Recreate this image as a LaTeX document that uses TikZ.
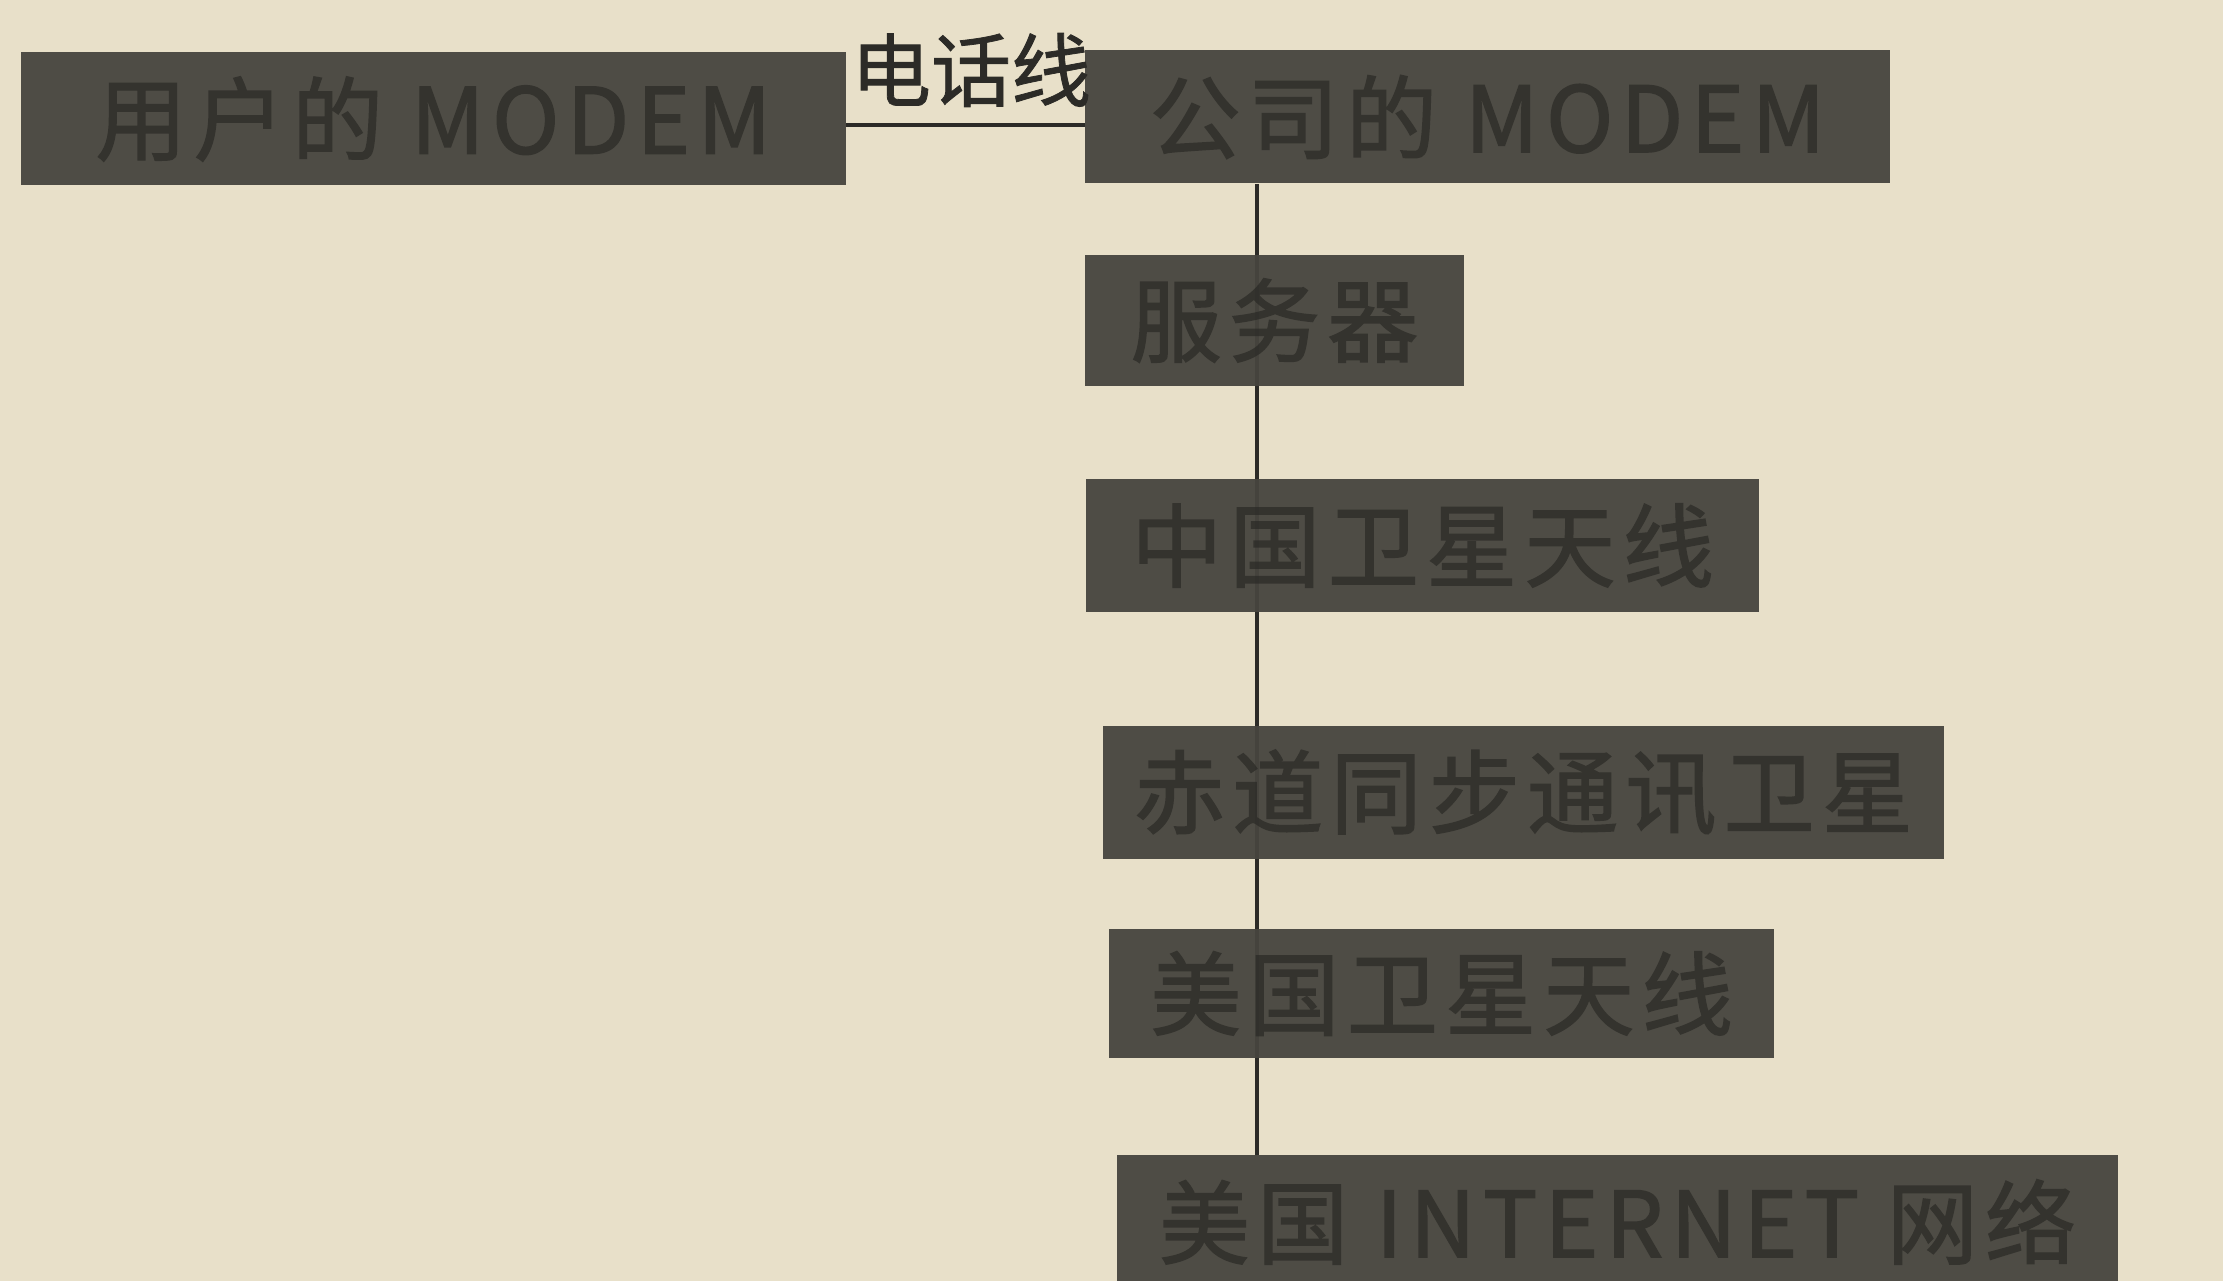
\documentclass[tikz,border=0pt]{standalone}
\usepackage{fontspec}
\newfontfamily\hei[LetterSpace=8,FakeBold=1.6]{Noto Sans CJK SC}
\newfontfamily\heilabel[FakeBold=1.0]{Noto Sans CJK SC}
\pgfdeclarelayer{background}
\pgfsetlayers{background,main}
\definecolor{paper}{RGB}{232,224,201}
\definecolor{boxfill}{RGB}{78,76,69}
\definecolor{boxtext}{RGB}{52,51,46}
\definecolor{ink}{RGB}{44,43,39}
\begin{document}
\begin{tikzpicture}[x=1pt,y=-1pt,
  blk/.style={fill=boxfill,draw=none,inner sep=0pt,minimum height=133pt,
    text=boxtext,font=\hei\fontsize{91}{96}\selectfont},
  wire/.style={draw=ink,line width=4.5pt},
  lbl/.style={text=ink,inner sep=0pt,font=\heilabel\fontsize{80}{86}\selectfont}]
\useasboundingbox (0,0) rectangle (2223,1281);
\node[blk,minimum width=825pt] (b1) at (433.5,119) {用户的 MODEM};
\node[blk,minimum width=805pt] (b2) at (1487.5,117) {公司的 MODEM};
\node[blk,minimum width=379pt,minimum height=131pt] (b3) at (1274.5,320.5) {服务器};
\node[blk,minimum width=673pt] (b4) at (1422.5,545.5) {中国卫星天线};
\node[blk,minimum width=841pt] (b5) at (1523.5,792.5) {赤道同步通讯卫星};
\node[blk,minimum width=665pt,minimum height=129pt] (b6) at (1441.5,993.5) {美国卫星天线};
\node[blk,minimum width=1001pt,minimum height=134pt] (b7) at (1617.5,1222) {美国 INTERNET 网络};
\node[lbl] (tel) at (971,70) {电话线};
\coordinate (vtop) at (1257,184);
\coordinate (vbot) at (1257,1155);
\draw[wire] ([yshift=-6pt]b1.east) -- ([yshift=-8pt]b2.west);
\begin{pgfonlayer}{background}
\fill[paper] (0,0) rectangle (2223,1281);
\draw[wire] (vtop) -- (vbot);
\end{pgfonlayer}
\draw[wire,draw opacity=0.25] (b3.north -| vtop) -- (b3.south -| vtop);
\draw[wire,draw opacity=0.25] (b4.north -| vtop) -- (b4.south -| vtop);
\draw[wire,draw opacity=0.25] (b5.north -| vtop) -- (b5.south -| vtop);
\draw[wire,draw opacity=0.25] (b6.north -| vtop) -- (b6.south -| vtop);
\end{tikzpicture}
\end{document}
